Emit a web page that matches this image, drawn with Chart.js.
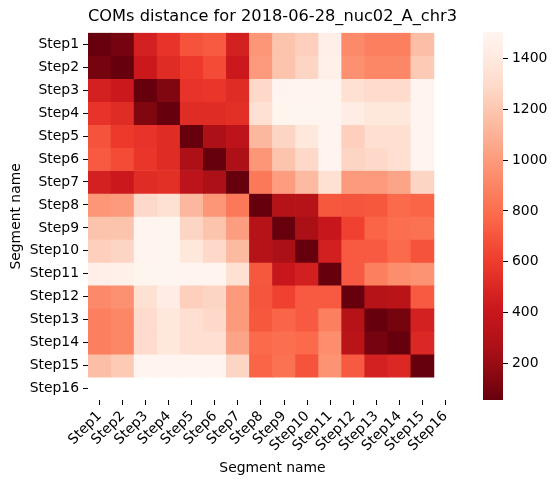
<!DOCTYPE html>
<html>
<head>
<meta charset="utf-8">
<script src="https://cdn.jsdelivr.net/npm/chart.js@4/dist/chart.umd.min.js"></script>
<style>
  body { margin: 0; background: #fff; }
  #wrap { position: relative; width: 556px; height: 486px; }
  #heat { position: absolute; left: 0; top: 0; }
  #cbar { position: absolute; left: 470px; top: 0; }
</style>
</head>
<body>
<div id="wrap">
  <canvas id="heat" width="556" height="486"></canvas>
  <canvas id="cbar" width="86" height="486"></canvas>
</div>
<script>
const stepLabels = ['Step1', 'Step2', 'Step3', 'Step4', 'Step5', 'Step6', 'Step7', 'Step8',
    'Step9', 'Step10', 'Step11', 'Step12', 'Step13', 'Step14', 'Step15', 'Step16'];

// distances, one row per segment (Step16 has no data)
const rowStep1 = [56, 100, 460, 560, 690, 720, 460, 980, 1185, 1240, 1455, 925, 875, 875, 1155, null];
const rowStep2 = [100, 56, 420, 520, 590, 660, 420, 995, 1185, 1270, 1470, 955, 910, 910, 1215, null];
const rowStep3 = [460, 420, 56, 130, 560, 570, 520, 1285, 1495, 1495, 1500, 1330, 1300, 1300, 1495, null];
const rowStep4 = [560, 520, 130, 56, 520, 520, 540, 1330, 1500, 1500, 1504, 1430, 1380, 1380, 1495, null];
const rowStep5 = [690, 590, 560, 520, 56, 275, 345, 1130, 1270, 1380, 1495, 1240, 1320, 1320, 1495, null];
const rowStep6 = [720, 660, 570, 520, 275, 56, 275, 980, 1185, 1285, 1495, 1270, 1285, 1320, 1495, null];
const rowStep7 = [460, 420, 520, 540, 345, 275, 56, 850, 1010, 1140, 1330, 995, 995, 1040, 1270, null];
const rowStep8 = [980, 995, 1285, 1330, 1130, 980, 850, 56, 315, 315, 710, 700, 710, 780, 760, null];
const rowStep9 = [1185, 1185, 1495, 1500, 1270, 1185, 1010, 315, 56, 265, 400, 620, 760, 800, 815, null];
const rowStep10 = [1240, 1270, 1495, 1500, 1380, 1285, 1140, 315, 265, 56, 455, 720, 720, 785, 690, null];
const rowStep11 = [1455, 1470, 1500, 1504, 1495, 1495, 1330, 710, 400, 455, 56, 720, 880, 940, 965, null];
const rowStep12 = [925, 955, 1330, 1430, 1240, 1270, 995, 700, 620, 720, 720, 56, 320, 335, 720, null];
const rowStep13 = [875, 910, 1300, 1380, 1320, 1285, 995, 710, 760, 720, 880, 320, 56, 100, 460, null];
const rowStep14 = [875, 910, 1300, 1380, 1320, 1320, 1040, 780, 800, 785, 940, 335, 100, 56, 500, null];
const rowStep15 = [1155, 1215, 1495, 1495, 1495, 1495, 1270, 760, 815, 690, 965, 720, 460, 500, 56, null];
const rowStep16 = [null, null, null, null, null, null, null, null, null, null, null, null, null, null, null, null];

const colorMin = 56;
const colorMax = 1504;
const colorbarTicks = [200, 400, 600, 800, 1000, 1200, 1400];

const rows = [rowStep1, rowStep2, rowStep3, rowStep4, rowStep5, rowStep6, rowStep7, rowStep8,
    rowStep9, rowStep10, rowStep11, rowStep12, rowStep13, rowStep14, rowStep15, rowStep16];

// matplotlib "Reds", reversed when used
const reds = [
    [255, 245, 240], [254, 224, 210], [252, 187, 161], [252, 146, 114], [251, 106, 74],
    [239, 59, 44], [203, 24, 29], [165, 15, 21], [103, 0, 13]
];

const redsAt = (t) => {
    t = Math.min(1, Math.max(0, t));
    const p = t * (reds.length - 1);
    const i = Math.min(reds.length - 2, Math.floor(p));
    const f = p - i;
    const c = reds[i].map((v, k) => Math.round(v + (reds[i + 1][k] - v) * f));
    return `rgb(${c[0]}, ${c[1]}, ${c[2]})`;
};
const colorFor = (v) => redsAt(1 - (v - colorMin) / (colorMax - colorMin));

Chart.defaults.font.family = "'DejaVu Sans', sans-serif";
Chart.defaults.color = '#000';

new Chart(document.querySelector('#heat'), {
    type: 'bar',
    data: {
        labels: stepLabels,
        datasets: rows.map((row, i) => ({
            label: stepLabels[i],
            data: row.map(v => v == null ? null : 1),
            backgroundColor: row.map(v => v == null ? 'rgba(0,0,0,0)' : colorFor(v)),
            borderWidth: 0,
            barPercentage: 1,
            categoryPercentage: 1,
        })),
    },
    options: {
        responsive: false,
        animation: false,
        events: [],
        layout: { padding: { left: 0, right: 99, top: 0, bottom: 0 } },
        scales: {
            x: {
                stacked: true,
                offset: true,
                afterFit: (scale) => { scale.height = 86; },
                grid: { offset: false, drawOnChartArea: false, tickLength: 5, color: '#000' },
                border: { display: false },
                ticks: { font: { size: 13.9 }, minRotation: 45, maxRotation: 45, padding: 3, autoSkip: false },
                title: { display: true, text: 'Segment name', font: { size: 13.9 }, padding: { top: 4, bottom: 9.7 } },
            },
            y: {
                stacked: true,
                reverse: true,
                min: 0,
                max: 16,
                afterFit: (scale) => { scale.width = 88; },
                afterBuildTicks: (scale) => {
                    scale.ticks = stepLabels.map((l, i) => ({ value: i + 0.5 }));
                },
                grid: { drawOnChartArea: false, tickLength: 5, color: '#000' },
                border: { display: false },
                ticks: {
                    font: { size: 13.9 },
                    padding: 4,
                    autoSkip: false,
                    callback: (value) => stepLabels[Math.floor(value)],
                },
                title: { display: true, text: 'Segment name', font: { size: 13.9 }, padding: { top: 7.7, bottom: 4 } },
            },
        },
        plugins: {
            legend: { display: false },
            tooltip: { enabled: false },
            title: {
                display: true,
                fullSize: false,
                text: 'COMs distance for 2018-06-28_nuc02_A_chr3',
                font: { size: 16.7, weight: 'normal' },
                padding: { top: 7, bottom: 5.8 },
            },
        },
    },
});

// colorbar
new Chart(document.querySelector('#cbar'), {
    type: 'bar',
    data: {
        labels: [''],
        datasets: [{
            data: [[colorMin, colorMax]],
            backgroundColor: (ctx) => {
                const { chartArea, scales } = ctx.chart;
                if (!chartArea) return null;
                const y0 = scales.y.getPixelForValue(colorMin);
                const y1 = scales.y.getPixelForValue(colorMax);
                const g = ctx.chart.ctx.createLinearGradient(0, y0, 0, y1);
                for (let i = 0; i <= 20; i++) {
                    g.addColorStop(i / 20, redsAt(1 - i / 20));
                }
                return g;
            },
            borderWidth: 0,
            barPercentage: 1,
            categoryPercentage: 1,
        }],
    },
    options: {
        responsive: false,
        animation: false,
        events: [],
        layout: { padding: { left: 13, right: 0, top: 32, bottom: 86 } },
        scales: {
            x: { display: false },
            y: {
                position: 'right',
                min: colorMin,
                max: colorMax,
                afterFit: (scale) => { scale.width = 53; },
                afterBuildTicks: (scale) => {
                    scale.ticks = colorbarTicks.map(v => ({ value: v }));
                },
                grid: { drawOnChartArea: false, tickLength: 5, color: '#000' },
                border: { display: false },
                ticks: { font: { size: 13.9 }, padding: 4, callback: (value) => String(value) },
            },
        },
        plugins: {
            legend: { display: false },
            tooltip: { enabled: false },
        },
    },
});
</script>
</body>
</html>
